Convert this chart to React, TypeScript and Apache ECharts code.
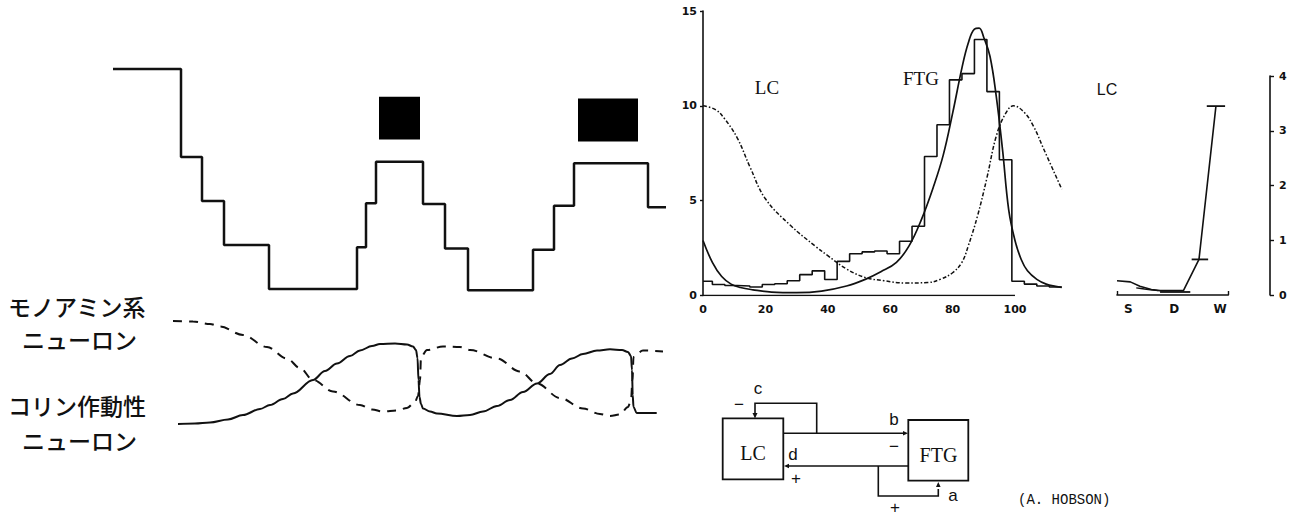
import { useEffect, useRef } from "react";
import * as echarts from "echarts";

// ---- Hypnogram (minutes from sleep onset, stage level: 5 = waking, 3 = stage 1, 0 = stage 4) ----
const hypnoTimes = [3, 71, 92, 114, 159, 247, 256, 266, 313, 335, 358, 423, 444, 464, 538, 556];
const hypnoLevels = [5, 3, 2, 1, 0, 0.95, 1.95, 2.89, 1.93, 0.92, -0.03, 0.89, 1.89, 2.86, 1.86, 1.86];

// REM episodes (black bars above the hypnogram)
const remStart = [269, 468];
const remEnd = [310, 528];
const remTop = [4.37, 4.33];
const remBottom = [3.4, 3.35];

// ---- Reciprocal activity of the two neuron populations ----
const monoamineT = [63, 83, 100, 110, 133, 157, 177, 190, 203, 223, 250, 262, 273, 287, 297, 305, 308, 310, 311, 317, 333, 350, 360, 387, 410, 427, 450, 473, 490, 500, 510, 518, 521, 522.5, 523.5, 533, 553];
const monoamineA = [10.9, 10.85, 10.6, 10.35, 9.5, 8.3, 7.15, 6.2, 5.0, 3.85, 2.5, 2.05, 1.85, 1.95, 2.2, 2.8, 3.4, 5.0, 7.3, 8.0, 8.35, 8.3, 8.0, 7.15, 5.85, 4.65, 3.2, 2.15, 1.6, 1.4, 1.55, 2.3, 3.0, 5.0, 7.3, 7.95, 7.85];
const cholinergicT = [68, 85, 100, 118, 133, 150, 160, 173, 183, 203, 215, 227, 240, 250, 262, 270, 285, 297, 303, 306, 307.5, 308.5, 309.5, 311, 313, 320, 327, 347, 360, 373, 387, 400, 413, 427, 440, 450, 462, 473, 487, 500, 512, 518, 521, 522, 522.7, 523.5, 526.7, 546.7];
const cholinergicA = [0.6, 0.65, 0.75, 1.05, 1.5, 2.1, 2.5, 3.1, 3.65, 5.0, 5.9, 6.65, 7.4, 7.95, 8.4, 8.6, 8.65, 8.55, 8.35, 8.0, 7.2, 5.0, 3.3, 2.6, 2.15, 1.85, 1.65, 1.4, 1.5, 1.85, 2.4, 3.0, 3.8, 4.65, 5.6, 6.5, 7.15, 7.6, 7.95, 8.07, 8.0, 7.8, 7.4, 6.0, 3.5, 2.3, 1.7, 1.7];

// ---- Firing rates across the sleep cycle (x: % of cycle, y: spikes/s) ----
const cycleAxisEnd = 100;
const ftgBinEdges = [0, 3, 7, 11, 15, 19, 23, 27, 31, 35, 39, 43, 47, 51, 55, 59, 63, 67, 71, 75, 79, 83, 87, 91, 95, 99, 103, 107, 111, 115];
const ftgBinRates = [0.75, 0.58, 0.53, 0.5, 0.45, 0.58, 0.62, 0.78, 1.1, 1.3, 0.84, 1.8, 2.2, 2.3, 2.35, 2.2, 2.86, 3.65, 7.33, 9.0, 11.37, 11.7, 13.5, 10.75, 7.16, 0.75, 0.6, 0.5, 0.45, 0.45];

const ftgCurveX = [0, 3, 6, 9, 12, 16, 22, 30, 38, 46, 52, 57, 62, 66, 70, 74, 77, 80, 83, 85, 87, 88.5, 90, 92, 94, 96, 98, 100, 102, 104, 107, 110, 113, 115];
const ftgCurveY = [2.9, 1.75, 1.0, 0.6, 0.42, 0.3, 0.18, 0.15, 0.23, 0.5, 0.85, 1.25, 1.75, 2.6, 4.0, 5.8, 7.4, 9.6, 12.0, 13.3, 14.05, 14.1, 13.6, 12.6, 10.5, 7.7, 4.5, 2.9, 1.9, 1.3, 0.85, 0.6, 0.48, 0.43];

const lcCurveX = [0, 4, 7, 11, 15, 20, 28, 36, 40, 46, 52, 58, 65, 72, 76, 80, 83, 85, 88, 91, 94, 97, 99.5, 103, 106, 109, 115];
const lcCurveY = [10.0, 9.8, 9.3, 8.3, 6.8, 5.1, 3.7, 2.6, 2.1, 1.4, 0.95, 0.78, 0.66, 0.68, 0.85, 1.2, 1.75, 2.6, 4.2, 6.2, 8.4, 9.6, 10.0, 9.65, 8.9, 7.8, 5.6];

// ---- LC discharge by state (S = synchronized sleep, D = desynchronized sleep, W = waking) ----
const stateNames = ["S", "D", "W"];
const lcStateX = [-0.25, 0.04, 0.25, 0.5, 0.69, 1.2, 1.54, 1.91];
const lcStateY = [0.26, 0.24, 0.16, 0.1, 0.08, 0.08, 0.65, 3.45];
const lcBranchX = [0.17, 0.35, 0.65];
const lcBranchY = [0.13, 0.11, 0.08];
const capFrom = [0.69, 1.38, 1.71];
const capTo = [1.35, 1.74, 2.11];
const capLevel = [0.055, 0.65, 3.45];

const zip = (xs: number[], ys: number[]) => xs.map((x, i) => [x, ys[i]]);

const INK = "#111";
const axisText = { color: INK, fontFamily: "DejaVu Sans", fontWeight: "bold" as const, fontSize: 11 };

function txt(x: number, y: number, text: string, style: Record<string, unknown>) {
  return { type: "text", x, y, silent: true, style: { text, fill: INK, verticalAlign: "middle", ...style } };
}

function seg(points: number[][], width = 1.6) {
  return { type: "polyline", silent: true, shape: { points }, style: { stroke: INK, lineWidth: width, fill: null } };
}

function tri(points: number[][]) {
  return { type: "polygon", silent: true, shape: { points }, style: { fill: INK } };
}

export default function App() {
  const ref = useRef<HTMLDivElement>(null);

  useEffect(() => {
    if (!ref.current) return;
    const chart = echarts.init(ref.current, undefined, { renderer: "svg" });

    const jp = { fontFamily: "'Noto Sans CJK JP'", fontSize: 23, fontWeight: 500 };
    const serif = { fontFamily: "'Liberation Serif'", fontSize: 20 };
    const small = { fontFamily: "'Liberation Sans'", fontSize: 17, align: "center" };

    const graphic = [
      // neuron labels
      txt(8, 306, "モノアミン系", jp),
      txt(22, 339, "ニューロン", jp),
      txt(8, 405, "コリン作動性", jp),
      txt(22, 440, "ニューロン", jp),
      // curve labels in the firing-rate chart
      txt(767, 87, "LC", { ...serif, fontSize: 19, align: "center" }),
      txt(921, 78, "FTG", { ...serif, fontSize: 19, align: "center" }),
      txt(1107, 89, "LC", { fontFamily: "'Liberation Sans'", fontSize: 16, align: "center" }),
      // reciprocal interaction model
      { type: "rect", silent: true, shape: { x: 722.7, y: 418.3, width: 60.6, height: 61 }, style: { stroke: INK, lineWidth: 1.8, fill: null } },
      { type: "rect", silent: true, shape: { x: 908.3, y: 420, width: 60, height: 60.7 }, style: { stroke: INK, lineWidth: 1.8, fill: null } },
      txt(753, 453, "LC", { ...serif, align: "center" }),
      txt(938.5, 455, "FTG", { ...serif, align: "center" }),
      seg([[783.3, 433.3], [905, 433.3]]),
      seg([[786, 466], [908.3, 466]]),
      seg([[816.7, 433.3], [816.7, 403.3], [755, 403.3], [755, 414]]),
      seg([[878.3, 466], [878.3, 496], [938.3, 496], [938.3, 489]]),
      tri([[752.5, 413], [757.5, 413], [755, 418.5]]),
      tri([[903, 431], [903, 435.6], [908, 433.3]]),
      tri([[789, 463.7], [789, 468.3], [784, 466]]),
      tri([[936, 487], [940.6, 487], [938.3, 482]]),
      txt(758, 388, "c", small),
      txt(739, 404, "−", small),
      txt(894, 419, "b", small),
      txt(894, 446, "−", small),
      txt(793, 454, "d", small),
      txt(796, 478, "+", small),
      txt(953, 495, "a", small),
      txt(895, 507, "+", small),
      txt(1018, 500, "(A. HOBSON)", { fontFamily: "'Liberation Mono'", fontSize: 14 }),
    ];

    const line = (extra: Record<string, unknown>) => ({
      type: "line",
      symbol: "none",
      silent: true,
      ...extra,
    });

    chart.setOption({
      animation: false,
      backgroundColor: "#fff",
      grid: [
        { left: 110, top: 69, width: 560, height: 220, outerBoundsMode: "none" },
        { left: 110, top: 300, width: 560, height: 130, outerBoundsMode: "none" },
        { left: 703, top: 11, width: 361.9, height: 284.5, outerBoundsMode: "none" },
        { left: 1117, top: 76, width: 111.3, height: 219, outerBoundsMode: "none" },
      ],
      xAxis: [
        { gridIndex: 0, type: "value", min: 0, max: 560, show: false },
        { gridIndex: 1, type: "value", min: 0, max: 560, show: false },
        {
          gridIndex: 2, type: "value", min: 0, max: 116, interval: 20,
          axisLine: { show: false },
          axisTick: { show: false }, splitLine: { show: false },
          axisLabel: { ...axisText, margin: 8, showMaxLabel: false },
        },
        {
          gridIndex: 3, type: "value", min: -0.25, max: 2.18,
          axisLine: { show: true, onZero: false, lineStyle: { color: INK, width: 1.6 } },
          axisTick: { show: true, inside: true, length: 4, customValues: [-0.25, 2.18], lineStyle: { color: INK, width: 1.4 } },
          splitLine: { show: false },
          axisLabel: { ...axisText, fontSize: 12, margin: 8, customValues: [0, 1, 2], formatter: (v: number) => stateNames[Math.round(v)] ?? "" },
        },
      ],
      yAxis: [
        { gridIndex: 0, type: "value", min: 0, max: 5, show: false },
        { gridIndex: 1, type: "value", min: 0, max: 13, show: false },
        {
          gridIndex: 2, type: "value", min: 0, max: 15, interval: 5,
          axisLine: { show: true, onZero: false, lineStyle: { color: INK, width: 1.6 } },
          axisTick: { show: true, length: 3, lineStyle: { color: INK, width: 1.4 } },
          splitLine: { show: false },
          axisLabel: { ...axisText, margin: 6 },
        },
        {
          gridIndex: 3, type: "value", position: "right", offset: 41.7, min: 0, max: 4, interval: 1,
          axisLine: { show: true, onZero: false, lineStyle: { color: INK, width: 1.6 } },
          axisTick: { show: true, length: 4, lineStyle: { color: INK, width: 1.4 } },
          splitLine: { show: false },
          axisLabel: { ...axisText, margin: 9 },
        },
      ],
      series: [
        line({
          xAxisIndex: 0, yAxisIndex: 0, step: "end", clip: false,
          data: zip(hypnoTimes, hypnoLevels),
          lineStyle: { color: INK, width: 2.5 },
          markArea: {
            silent: true,
            itemStyle: { color: "#000", opacity: 1 },
            data: remStart.map((s, i) => [{ coord: [s, remTop[i]] }, { coord: [remEnd[i], remBottom[i]] }]),
          },
        }),
        line({
          xAxisIndex: 1, yAxisIndex: 1, smooth: 0.35, smoothMonotone: "x", clip: false,
          data: zip(monoamineT, monoamineA),
          lineStyle: { color: INK, width: 2, type: [9, 7] },
        }),
        line({
          xAxisIndex: 1, yAxisIndex: 1, smooth: 0.35, smoothMonotone: "x", clip: false,
          data: zip(cholinergicT, cholinergicA),
          lineStyle: { color: INK, width: 2 },
        }),
        // x-axis baseline of the firing-rate chart (drawn only across 0–100 %)
        line({
          xAxisIndex: 2, yAxisIndex: 2,
          data: [[0, 0], [cycleAxisEnd, 0]],
          lineStyle: { color: INK, width: 1.6 },
        }),
        line({
          xAxisIndex: 2, yAxisIndex: 2, step: "end",
          data: zip(ftgBinEdges, ftgBinRates),
          lineStyle: { color: INK, width: 1.6 },
        }),
        line({
          xAxisIndex: 2, yAxisIndex: 2, smooth: 0.4,
          data: zip(ftgCurveX, ftgCurveY),
          lineStyle: { color: INK, width: 1.7 },
        }),
        line({
          xAxisIndex: 2, yAxisIndex: 2, smooth: 0.4,
          data: zip(lcCurveX, lcCurveY),
          lineStyle: { color: INK, width: 1.5, type: [4, 2, 1.5, 2] },
        }),
        line({
          xAxisIndex: 3, yAxisIndex: 3, clip: false,
          data: zip(lcStateX, lcStateY),
          lineStyle: { color: INK, width: 1.6 },
        }),
        line({
          xAxisIndex: 3, yAxisIndex: 3, smooth: 0.3, clip: false,
          data: zip(lcBranchX, lcBranchY),
          lineStyle: { color: INK, width: 1.4 },
        }),
        ...capLevel.map((lv, i) =>
          line({
            xAxisIndex: 3, yAxisIndex: 3, clip: false,
            data: [[capFrom[i], lv], [capTo[i], lv]],
            lineStyle: { color: INK, width: 1.8 },
          })
        ),
      ],
      graphic,
    });

    return () => chart.dispose();
  }, []);

  return <div ref={ref} style={{ position: "fixed", left: 0, top: 0, width: 1296, height: 515, background: "#fff" }} />;
}
